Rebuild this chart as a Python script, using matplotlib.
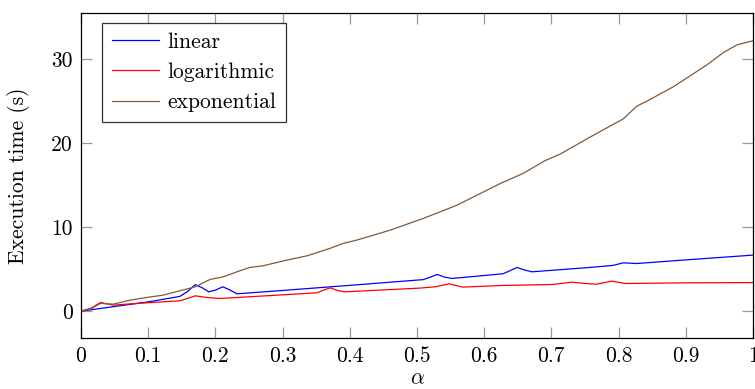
import numpy as np
from matplotlib import pyplot as plt

# alpha values and execution times (s)
lin_x = [0, 0.05, 0.1, 0.147, 0.158, 0.17, 0.18, 0.19, 0.2, 0.211, 0.222, 0.232,
         0.3, 0.4, 0.509, 0.52, 0.53, 0.541, 0.552, 0.628, 0.638, 0.649, 0.66,
         0.671, 0.757, 0.792, 0.807, 0.827, 0.9, 1.0]
lin_y = [0, 0.55, 1.1, 1.75, 2.3, 3.15, 2.8, 2.3, 2.5, 2.9, 2.5, 2.06,
         2.46, 3.07, 3.75, 4.05, 4.37, 4.05, 3.89, 4.45, 4.8, 5.2, 4.9,
         4.68, 5.2, 5.45, 5.75, 5.67, 6.1, 6.67]

log_x = [0, 0.015, 0.029, 0.048, 0.073, 0.1, 0.147, 0.158, 0.17, 0.19, 0.207,
         0.251, 0.351, 0.361, 0.371, 0.382, 0.393, 0.504, 0.527, 0.548, 0.568,
         0.628, 0.702, 0.73, 0.757, 0.767, 0.79, 0.81, 0.9, 1.0]
log_y = [0, 0.35, 1.03, 0.71, 0.86, 1.0, 1.23, 1.5, 1.82, 1.6, 1.51,
         1.71, 2.18, 2.5, 2.77, 2.45, 2.3, 2.74, 2.9, 3.25, 2.86,
         3.06, 3.17, 3.45, 3.25, 3.21, 3.57, 3.29, 3.37, 3.4]

exp_x = [0, 0.015, 0.029, 0.048, 0.073, 0.098, 0.122, 0.147, 0.17, 0.192, 0.212,
         0.232, 0.251, 0.271, 0.306, 0.337, 0.37, 0.39, 0.41, 0.46, 0.509, 0.559,
         0.589, 0.624, 0.658, 0.69, 0.713, 0.757, 0.807, 0.827, 0.842, 0.881,
         0.931, 0.956, 0.976, 1.0]
exp_y = [0, 0.3, 0.92, 0.83, 1.31, 1.63, 1.9, 2.42, 2.9, 3.77, 4.09,
         4.68, 5.2, 5.4, 6.07, 6.6, 7.46, 8.06, 8.45, 9.64, 11.03, 12.6,
         13.8, 15.2, 16.4, 17.9, 18.7, 20.7, 22.9, 24.4, 25.0, 26.7,
         29.3, 30.8, 31.7, 32.2]

xticks = [0, 0.1, 0.2, 0.3, 0.4, 0.5, 0.6, 0.7, 0.8, 0.9, 1]
xtick_labels = ['0', '0.1', '0.2', '0.3', '0.4', '0.5', '0.6', '0.7', '0.8', '0.9', '1']
yticks = [0, 10, 20, 30]

plt.rcParams['font.family'] = 'serif'
plt.rcParams['font.serif'] = ['cmr10']
plt.rcParams['mathtext.fontset'] = 'cm'
plt.rcParams['axes.unicode_minus'] = False

fs = 15.5
fig = plt.figure(figsize=(7.55, 3.89), dpi=100)
ax = fig.add_axes([0.1073, 0.1311, 0.8901, 0.8355])

ax.plot(lin_x, lin_y, color='#0000ff', lw=0.9, label='linear')
ax.plot(log_x, log_y, color='#ff0000', lw=0.9, label='logarithmic')
ax.plot(exp_x, exp_y, color='#80593a', lw=0.9, label='exponential')

ax.set_xlim(0, 1)
ax.set_ylim(-3.2, 35.5)
ax.set_xticks(xticks, labels=xtick_labels)
ax.set_yticks(yticks)
ax.tick_params(direction='in', top=True, right=True, length=8, width=0.9,
               color='#999999', labelsize=fs, pad=6)
for s in ax.spines.values():
    s.set_linewidth(0.9)

ax.set_xlabel(r'$\alpha$', fontsize=fs, labelpad=2)
ax.set_ylabel('Execution time (s)', fontsize=fs)
ax.yaxis.set_label_coords(-0.076, 0.5)

leg = ax.legend(loc='upper left', bbox_to_anchor=(0.031, 0.970), borderaxespad=0,
                fancybox=False, edgecolor='black', fontsize=fs, handlelength=2.2,
                handletextpad=0.4, labelspacing=0.49, borderpad=0.45)
leg.get_frame().set_linewidth(0.9)

plt.savefig('out.png', dpi=100)
